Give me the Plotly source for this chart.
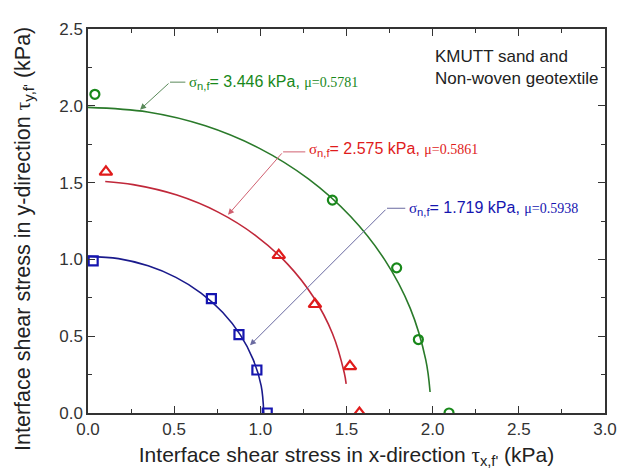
import plotly.graph_objects as go

# ---- data ----
blue_x = [0.03, 0.716, 0.876, 0.98, 1.04]
blue_y = [0.99, 0.745, 0.51, 0.28, 0.0]
red_x = [0.104, 1.107, 1.317, 1.52, 1.575]
red_y = [1.57, 1.027, 0.708, 0.304, 0.0]
green_x = [0.04, 1.418, 1.791, 1.917, 2.095]
green_y = [2.075, 1.386, 0.945, 0.478, 0.0]

# fitted failure envelopes
blue_fit_x = [0.0, 0.177, 0.349, 0.51, 0.656, 0.781, 0.883, 0.958, 1.005, 1.02]
blue_fit_y = [1.02, 1.005, 0.958, 0.883, 0.781, 0.656, 0.51, 0.349, 0.177, 0.0]
red_fit_x = [0.10, 0.262, 0.516, 0.755, 0.971, 1.157, 1.308, 1.419, 1.487, 1.498]
red_fit_y = [1.507, 1.487, 1.419, 1.308, 1.157, 0.971, 0.755, 0.516, 0.262, 0.19]
green_fit_x = [0.0, 0.346, 0.681, 0.995, 1.279, 1.524, 1.723, 1.87, 1.96, 1.985]
green_fit_y = [1.99, 1.96, 1.87, 1.723, 1.524, 1.279, 0.995, 0.681, 0.346, 0.137]

x_ticks = [0.0, 0.5, 1.0, 1.5, 2.0, 2.5, 3.0]
y_ticks = [0.0, 0.5, 1.0, 1.5, 2.0, 2.5]

BLUE, RED, GREEN = "#1515b0", "#e01b1b", "#18881a"
BLUE_L, RED_L, GREEN_L = "#1a1a8c", "#c0283a", "#2a7a2a"

fig = go.Figure()
for fx, fy, c in [(blue_fit_x, blue_fit_y, BLUE_L), (red_fit_x, red_fit_y, RED_L),
                  (green_fit_x, green_fit_y, GREEN_L)]:
    fig.add_trace(go.Scatter(x=fx, y=fy, mode="lines", line=dict(color=c, width=1.6, shape="spline"),
                             showlegend=False, hoverinfo="skip"))

for dx, dy, c, sym, sz in [(blue_x, blue_y, BLUE, "square-open", 9),
                           (red_x, red_y, RED, "triangle-up-open", 11),
                           (green_x, green_y, GREEN, "circle-open", 9)]:
    fig.add_trace(go.Scatter(x=dx, y=dy, mode="markers",
                             marker=dict(symbol=sym, size=sz, color=c, line=dict(width=2.2, color=c)),
                             showlegend=False))

def label(sig, mu):
    return (f"<span style='font-family:Times New Roman;font-size:15px'>σ</span>"
            f"<sub>n,f</sub>= {sig} kPa, "
            f"<span style='font-family:Times New Roman;font-size:14px'>μ=0.{mu}</span>")

annots = [
    # (text x, text y, tail x, tail y, head x, head y, sigma, mu, colour, leader colour)
    (0.575, 2.154, 0.476, 2.154, 0.302, 1.975, "3.446", "5781", GREEN, "#5a8a5a"),
    (1.271, 1.715, 1.132, 1.700, 0.8125, 1.29, "2.575", "5861", RED, "#d06070"),
    (1.851, 1.333, 1.735, 1.333, 0.94, 0.441, "1.719", "5938", BLUE, "#6a6aa0"),
]
for tx, ty, lx, ly, hx, hy, sig, mu, col, lc in annots:
    fig.add_shape(type="line", x0=lx, y0=ly, x1=tx - 0.01, y1=ly, line=dict(color=lc, width=1))
    fig.add_annotation(x=hx, y=hy, ax=lx, ay=ly, axref="x", ayref="y", xref="x", yref="y",
                       text="", showarrow=True, arrowhead=2, arrowsize=1.2, arrowwidth=1, arrowcolor=lc)
    fig.add_annotation(x=tx, y=ty, xref="x", yref="y", text=label(sig, mu), showarrow=False,
                       xanchor="left", yanchor="middle", font=dict(color=col, size=16, family="Arial"))

fig.add_annotation(x=2.0, y=2.25, xref="x", yref="y", xanchor="left", yanchor="middle",
                   text="KMUTT sand and<br>Non-woven geotextile", showarrow=False, align="left",
                   font=dict(size=17, color="#222222", family="Arial"))

# y-axis title (placed as a rotated text so it sits where the reference has it)
fig.add_annotation(x=-0.124, y=0.453, xref="paper", yref="paper", textangle=-90,
                   xanchor="center", yanchor="middle", showarrow=False,
                   text="Interface shear stress in y-direction "
                        "<span style='font-family:Times New Roman'>τ</span><sub>y,f'</sub> (kPa)",
                   font=dict(size=21.5, color="#222222", family="Arial"))

axis_common = dict(showline=True, linecolor="#333333", linewidth=1.5, mirror="ticks",
                   ticks="inside", ticklen=7, tickwidth=1.2, tickcolor="#333333",
                   showgrid=False, zeroline=False, tickformat=".1f", automargin=False,
                   tickfont=dict(size=17, color="#333333", family="Arial"),
                   minor=dict(ticks="inside", ticklen=4, tickwidth=1.2, tickcolor="#333333", dtick=0.25,
                              showgrid=False))

fig.update_xaxes(range=[0, 3.0], tickvals=x_ticks, **axis_common,
                 title=dict(text="Interface shear stress in x-direction "
                                 "<span style='font-family:Times New Roman'>τ</span><sub>x,f'</sub> (kPa)",
                            font=dict(size=21, color="#222222", family="Arial"), standoff=9))
fig.update_yaxes(range=[0, 2.5], tickvals=y_ticks, **axis_common)

fig.update_layout(width=630, height=471, margin=dict(l=88, r=25, t=29, b=58),
                  plot_bgcolor="white", paper_bgcolor="white")

fig.write_html("out.html")
